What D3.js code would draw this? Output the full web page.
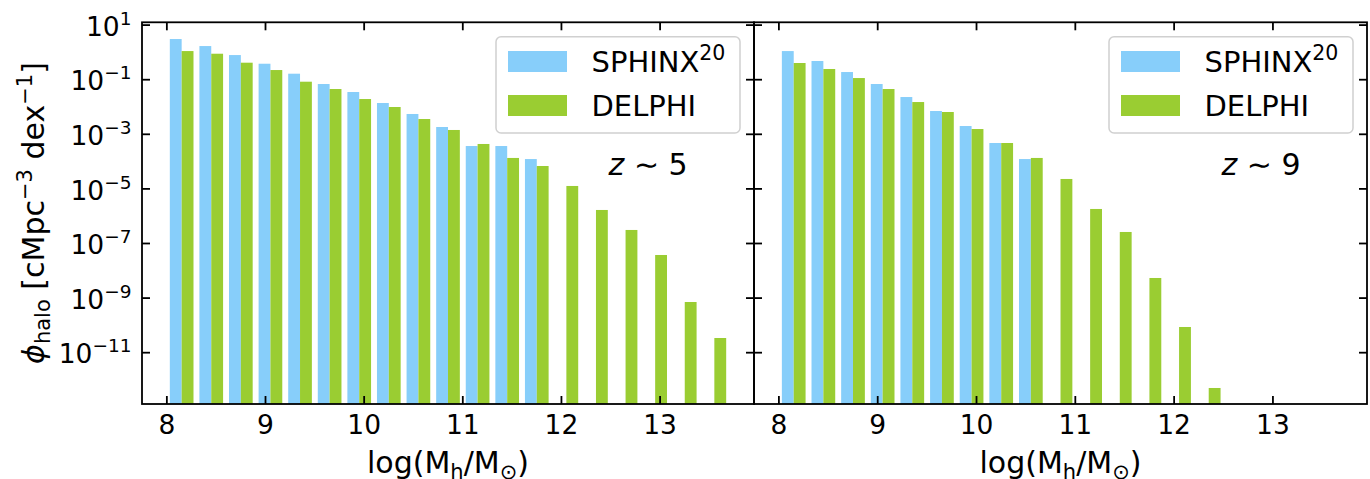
<!DOCTYPE html>
<html><head><meta charset="utf-8">
<script src="https://cdn.jsdelivr.net/npm/d3@7"></script>
<style>
html,body{margin:0;padding:0;background:#fff;}
svg{display:block;font-family:"DejaVu Sans",sans-serif;}
</style></head>
<body>
<svg id="chart" width="1370" height="479"></svg>
<script>
// ---- data ----
const binCenters = [8.15,8.45,8.75,9.05,9.35,9.65,9.95,10.25,10.55,10.85,11.15,11.45,11.75,12.05,12.35,12.65,12.95,13.25,13.55];
const sphinxZ5 = [3.09,1.71,0.80,0.385,0.166,0.0695,0.0354,0.0140,5.55e-3,1.85e-3,3.72e-4,3.72e-4,1.24e-4];
const delphiZ5 = [1.12,0.895,0.42,0.226,0.0845,0.0456,0.0196,0.0100,3.63e-3,1.44e-3,4.42e-4,1.36e-4,6.9e-5,1.28e-5,1.69e-6,3.13e-7,3.79e-8,7.19e-10,3.45e-11];
const sphinxZ9 = [1.12,0.484,0.191,0.0695,0.0232,7.13e-3,2.01e-3,4.80e-4,1.24e-4];
const delphiZ9 = [0.409,0.247,0.115,0.0456,0.0152,6.56e-3,1.56e-3,4.80e-4,1.36e-4,2.31e-5,1.84e-6,2.64e-7,5.45e-9,8.73e-11,5.09e-13];
const xTicks = [8,9,10,11,12,13];
const yTickExps = [1,-1,-3,-5,-7,-9,-11];
const seriesNames = ["SPHINX", "DELPHI"];
const panelLabels = ["5","9"];
const barWidth = 0.12;

// ---- layout ----
const svg = d3.select("#chart");
const yTop = 22.3, yBot = 404;
const panels = [
  {x0:142, x1:754, s:sphinxZ5, d:delphiZ5, z:panelLabels[0], yLabels:true},
  {x0:754, x1:1367, s:sphinxZ9, d:delphiZ9, z:panelLabels[1], yLabels:false}
];
const colS = "#87CEFA", colD = "#9ACD32";
const y = d3.scaleLog().domain([Math.pow(10,-12.88), Math.pow(10,1.103)]).range([yBot, yTop]);

panels.forEach((p,pi)=>{
  const x = d3.scaleLinear().domain([7.748, 13.952]).range([p.x0, p.x1]);
  const g = svg.append("g");
  const clipId = "clip"+pi;
  svg.append("clipPath").attr("id",clipId).append("rect")
    .attr("x",p.x0).attr("y",yTop).attr("width",p.x1-p.x0).attr("height",yBot-yTop);
  const bars = g.append("g").attr("clip-path",`url(#${clipId})`);
  bars.selectAll(".s").data(p.s).enter().append("rect")
    .attr("x",(v,i)=>x(binCenters[i]-barWidth))
    .attr("width",(v,i)=>x(binCenters[i])-x(binCenters[i]-barWidth))
    .attr("y",v=>y(v)).attr("height",v=>yBot+5-y(v)).attr("fill",colS);
  bars.selectAll(".d").data(p.d).enter().append("rect")
    .attr("x",(v,i)=>x(binCenters[i]))
    .attr("width",(v,i)=>x(binCenters[i]+barWidth)-x(binCenters[i]))
    .attr("y",v=>y(v)).attr("height",v=>yBot+5-y(v)).attr("fill",colD);

  // ticks (inward, all sides)
  const tk = 8, lw = 1.8;
  xTicks.forEach(t=>{
    const xx = x(t);
    g.append("line").attr("x1",xx).attr("x2",xx).attr("y1",yBot).attr("y2",yBot-tk).attr("stroke","#000").attr("stroke-width",lw);
    g.append("line").attr("x1",xx).attr("x2",xx).attr("y1",yTop).attr("y2",yTop+tk).attr("stroke","#000").attr("stroke-width",lw);
    g.append("text").attr("x",xx).attr("y",434).attr("text-anchor","middle")
      .attr("font-size",26.5).text(t);
  });
  yTickExps.forEach(e=>{
    const yy = y(Math.pow(10,e));
    g.append("line").attr("x1",p.x0).attr("x2",p.x0+tk).attr("y1",yy).attr("y2",yy).attr("stroke","#000").attr("stroke-width",lw);
    g.append("line").attr("x1",p.x1).attr("x2",p.x1-tk).attr("y1",yy).attr("y2",yy).attr("stroke","#000").attr("stroke-width",lw);
    if(p.yLabels){
      const t = g.append("text").attr("x",131.5).attr("y",yy+10.7).attr("text-anchor","end").attr("font-size",26.5);
      t.append("tspan").text("10");
      t.append("tspan").attr("dy",-11).attr("font-size",18.5).text(e<0?"\u2212"+(-e):String(e));
    }
  });
  // frame
  g.append("rect").attr("x",p.x0).attr("y",yTop).attr("width",p.x1-p.x0).attr("height",yBot-yTop)
    .attr("fill","none").attr("stroke","#000").attr("stroke-width",lw);

  // x label
  const xl = g.append("text").attr("x",(p.x0+p.x1)/2).attr("y",473).attr("text-anchor","middle").attr("font-size",30);
  xl.append("tspan").text("log(M");
  xl.append("tspan").attr("dy",6).attr("font-size",21).text("h");
  xl.append("tspan").attr("dy",-6).text("/M");
  xl.append("tspan").attr("dy",6).attr("font-size",21).text("\u2299");
  xl.append("tspan").attr("dy",-6).text(")");

  // legend
  const lx = p.x1 - 258, ly = 36.7;
  g.append("rect").attr("x",lx).attr("y",ly).attr("width",244).attr("height",96.3).attr("rx",5)
    .attr("fill","#fff").attr("fill-opacity",0.8).attr("stroke","#d0d0d0").attr("stroke-width",1.5);
  [[colS,51,"SPHINX",true],[colD,95,"DELPHI",false]].forEach(([c,yy,name,sup],k)=>{
    g.append("rect").attr("x",lx+12).attr("y",yy).attr("width",59).attr("height",21).attr("fill",c);
    const t = g.append("text").attr("x",lx+95.5).attr("y",yy+21).attr("font-size",29);
    t.append("tspan").text(seriesNames[k]);
    if(sup) t.append("tspan").attr("dy",-12).attr("font-size",20.5).text("20");
  });

  // z label
  const zt = g.append("text").attr("x",p.x0+0.827*(p.x1-p.x0)).attr("y",175).attr("text-anchor","middle").attr("font-size",30);
  zt.append("tspan").attr("font-style","italic").text("z");
  zt.append("tspan").text(" \u223C "+p.z);
});

// y label
const yl = svg.append("text").attr("transform","translate(44,213) rotate(-90)").attr("text-anchor","middle").attr("font-size",30);
yl.append("tspan").attr("font-style","italic").text("\u03D5");
yl.append("tspan").attr("dy",6).attr("font-size",21).text("halo");
yl.append("tspan").attr("dy",-6).text(" [cMpc");
yl.append("tspan").attr("dy",-12).attr("font-size",21).text("\u22123");
yl.append("tspan").attr("dy",12).text(" dex");
yl.append("tspan").attr("dy",-12).attr("font-size",21).text("\u22121");
yl.append("tspan").attr("dy",12).text("]");
</script>
</body></html>
